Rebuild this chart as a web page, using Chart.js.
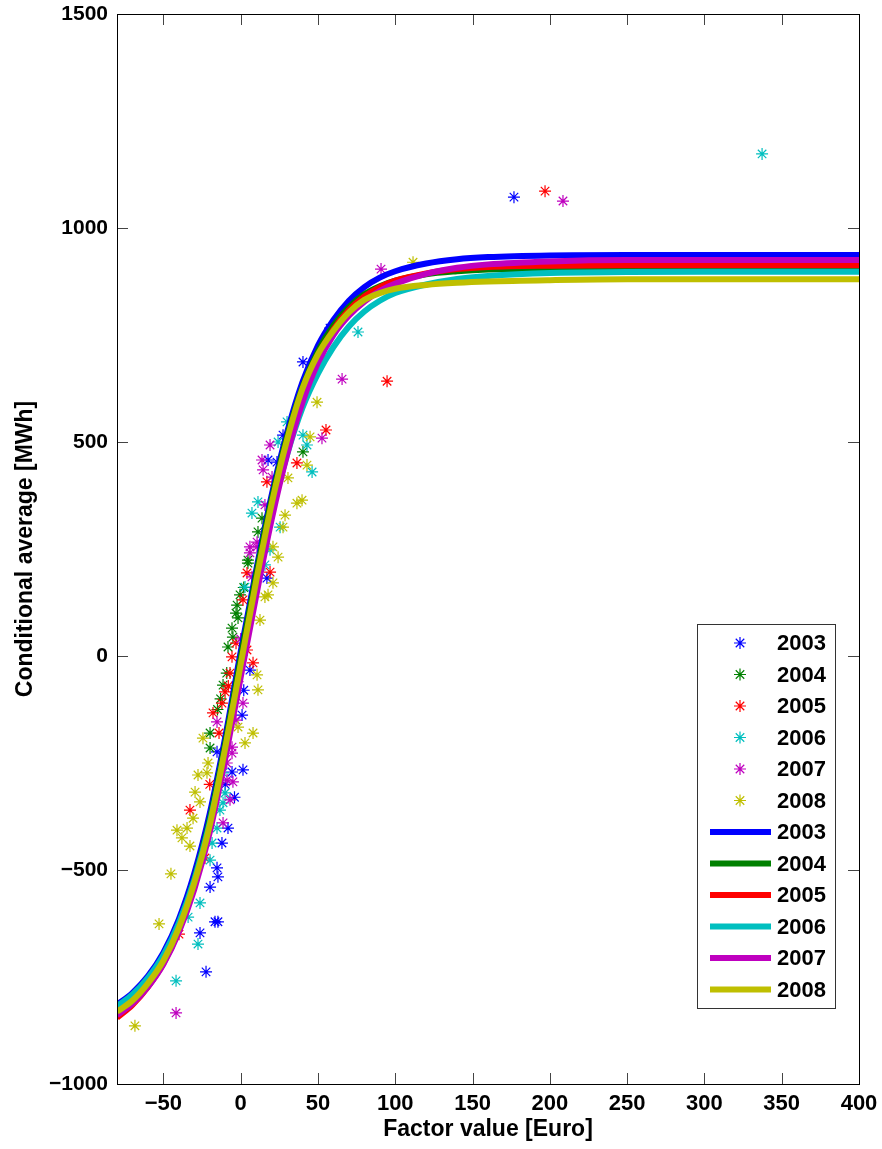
<!DOCTYPE html>
<html>
<head>
<meta charset="utf-8">
<script src="https://cdn.jsdelivr.net/npm/chart.js@4/dist/chart.umd.min.js"></script>
<style>
  html, body { margin: 0; padding: 0; background: #fff; }
  #wrap { width: 882px; height: 1149px; }
</style>
</head>
<body>
<div id="wrap"><canvas id="chart" width="882" height="1149"></canvas></div>
<script>
const years = ['2003', '2004', '2005', '2006', '2007', '2008'];
const colors = ['#0000ff', '#008000', '#ff0000', '#00bfbf', '#bf00bf', '#bfbf00'];

const xTicks = [-50, 0, 50, 100, 150, 200, 250, 300, 350, 400];
const yTicks = [-1000, -500, 0, 500, 1000, 1500];

// Observed conditional averages, [factor value, MWh]
const obs2003 = [[176.8, 1072], [57.8, 766], [40.3, 687], [27.4, 516], [17.7, 458], [23.5, 453], [17, 182],
    [6, -33], [0.9, -138], [1.5, -266], [-5.6, -271], [-8.2, -402], [-12.1, -437], [-15.3, -495], [-14.7, -516],
    [-19.8, -540], [-16.6, -621], [-14.7, -621], [-26.3, -647], [-22.4, -738], [-15.3, -224], [-4, -330],
    [-10, -300], [2, -80]];
const obs2004 = [[40.3, 477], [13.8, 322], [11.2, 290], [4.7, 224], [4.7, 217], [-0.4, 143], [-2.3, 119],
    [-1.7, 89], [-5.6, 65], [-5, 44], [-8.2, 21], [-11.4, -68], [-19.8, -180], [-19.8, -215], [-13, -100],
    [-9, -40], [-15, -125], [-3, 100], [2, 160]];
const obs2005 = [[196.9, 1086], [94.7, 642], [55.2, 528], [36.4, 451], [17, 407], [19, 196], [4.1, 194],
    [1.5, 131], [8, -16], [4.1, 14], [-5.6, -2], [-6.9, -40], [-10.1, -84], [-12.1, -110], [-17.9, -133],
    [-23.1, -472], [-32.8, -360], [-39.9, -650], [-14, -180], [-8, -70], [-20, -300], [-3, 30]];
const obs2006 = [[337.3, 1173], [75.9, 757], [46.2, 430], [42.9, 493], [40.3, 516], [30, 547], [24.2, 500],
    [11.2, 360], [7.3, 334], [25.5, 301], [19, 248], [15.7, 213], [2.8, 161], [-10.1, -320], [-11.4, -343],
    [-13.4, -360], [-11.4, -273], [-15.3, -402], [-18.5, -437], [-19.8, -477], [-26.3, -577], [-34, -610],
    [-27.6, -673], [-41.8, -759]];
const obs2007 = [[208.5, 1063], [90.8, 904], [65.6, 647], [52.6, 509], [19, 493], [13.8, 458], [14.5, 435],
    [20.3, 418], [15.7, 353], [10.6, 255], [10.6, 266], [6, 241], [6, 255], [7.3, 185], [1.5, -110],
    [-15.3, -154], [-5.6, -213], [-5.6, -227], [-8.8, -290], [-5, -294], [-6.9, -336], [-11.4, -390],
    [-41.8, -834], [-3, -150], [-9, -250], [-2, -60], [0, 40]];
const obs2008 = [[111.5, 920], [49.4, 593], [44.9, 512], [42.9, 446], [30.6, 416], [36.4, 357], [39.7, 364],
    [28.7, 329], [27.4, 301], [20.9, 255], [24.2, 231], [20.9, 171], [17.7, 143], [15.7, 138], [12.5, 84],
    [10.6, -44], [11.2, -79], [8, -180], [-1.7, -166], [2.8, -203], [-24.4, -192], [-21.1, -250],
    [-21.8, -273], [-27.6, -278], [-29.5, -318], [-26.3, -341], [-30.8, -379], [-34.7, -402], [-41.2, -407],
    [-38, -425], [-32.8, -444], [-45.1, -509], [-52.8, -626], [-68.4, -864]];

// Fitted curves, sampled at fitX
const fitX = [-80, -70, -60, -50, -40, -30, -20, -10, 0, 10, 20, 30, 40, 50, 60, 70, 80, 90, 100, 120, 140, 160, 200, 250, 300, 400];
const fit2003 = [-815, -787, -748, -693, -615, -508, -368, -190, 10, 200, 375, 522, 640, 725, 785, 830, 862, 884, 899, 917, 927, 932, 936, 937, 937, 937];
const fit2004 = [-830, -801, -760, -704, -626, -521, -382, -204, -5, 190, 365, 512, 628, 712, 772, 815, 845, 864, 877, 892, 899, 903, 905, 905, 905, 905];
const fit2005 = [-845, -815, -773, -718, -641, -537, -400, -225, -30, 165, 343, 493, 612, 700, 763, 808, 840, 862, 877, 894, 904, 909, 912, 913, 913, 913];
const fit2006 = [-818, -791, -752, -699, -624, -523, -390, -218, -25, 160, 330, 470, 580, 660, 722, 770, 805, 830, 848, 868, 881, 888, 895, 897, 898, 898];
const fit2007 = [-839, -812, -773, -720, -645, -545, -412, -240, -50, 140, 318, 470, 593, 685, 750, 795, 828, 853, 870, 893, 907, 915, 922, 925, 925, 925];
const fit2008 = [-831, -805, -765, -712, -635, -530, -395, -215, -20, 175, 355, 505, 625, 705, 760, 803, 832, 848, 858, 867, 872, 875, 878, 880, 880, 880];

const observed = [obs2003, obs2004, obs2005, obs2006, obs2007, obs2008];
const fitted = [fit2003, fit2004, fit2005, fit2006, fit2007, fit2008];

const FONT = '"Liberation Sans", Arial, Helvetica, sans-serif';

function minusSign(v) {
    return v < 0 ? '\u2212' + Math.abs(v) : String(v);
}

// Scatter sets first (legend order), drawn underneath the fitted lines
const datasets = [];
observed.forEach((pts, i) => {
    datasets.push({
        label: years[i],
        data: pts.map(p => ({ x: p[0], y: p[1] })),
        showLine: false,
        pointStyle: 'star',
        pointRadius: 6,
        pointBorderWidth: 1.2,
        borderColor: colors[i],
        backgroundColor: colors[i],
        order: 11 - i
    });
});
fitted.forEach((ys, i) => {
    datasets.push({
        label: years[i],
        data: fitX.map((x, k) => ({ x: x, y: ys[k] })),
        showLine: true,
        pointRadius: 0,
        borderWidth: 6,
        borderColor: colors[i],
        backgroundColor: colors[i],
        cubicInterpolationMode: 'monotone',
        order: 5 - i
    });
});

// Box around the plot with inward ticks on every side
const framePlugin = {
    id: 'frame',
    afterDatasetsDraw(chart) {
        const { ctx, chartArea: a, scales } = chart;
        const len = 11;
        ctx.save();
        ctx.lineWidth = 1;
        ctx.strokeStyle = '#444';
        ctx.beginPath();
        xTicks.forEach(v => {
            const px = Math.round(scales.x.getPixelForValue(v)) + 0.5;
            ctx.moveTo(px, a.bottom); ctx.lineTo(px, a.bottom - len);
            ctx.moveTo(px, a.top); ctx.lineTo(px, a.top + len);
        });
        yTicks.forEach(v => {
            const py = Math.round(scales.y.getPixelForValue(v)) + 0.5;
            ctx.moveTo(a.left, py); ctx.lineTo(a.left + len, py);
            ctx.moveTo(a.right, py); ctx.lineTo(a.right - len, py);
        });
        ctx.stroke();
        ctx.strokeStyle = '#000';
        ctx.strokeRect(Math.round(a.left) + 0.5, Math.round(a.top) + 0.5,
            Math.round(a.right - a.left), Math.round(a.bottom - a.top));
        ctx.restore();
    }
};

// Legend box in the lower right of the plot
const boxLegend = {
    id: 'boxLegend',
    afterDraw(chart, args, opts) {
        const { ctx } = chart;
        ctx.save();
        ctx.fillStyle = '#fff';
        ctx.fillRect(opts.left, opts.top, opts.width, opts.height);
        ctx.strokeStyle = '#333';
        ctx.lineWidth = 1;
        ctx.strokeRect(opts.left + 0.5, opts.top + 0.5, opts.width, opts.height);
        ctx.font = 'bold 22px ' + FONT;
        ctx.textBaseline = 'middle';
        chart.data.datasets.forEach((ds, i) => {
            const y = opts.top + opts.first + i * opts.step;
            ctx.strokeStyle = ds.borderColor;
            ctx.fillStyle = ds.borderColor;
            if (ds.showLine) {
                ctx.lineWidth = 6;
                ctx.beginPath();
                ctx.moveTo(opts.left + 13, y);
                ctx.lineTo(opts.left + 74, y);
                ctx.stroke();
            } else {
                ctx.lineWidth = 1.2;
                Chart.helpers.drawPoint(ctx, { pointStyle: 'star', radius: 6, borderWidth: 1.2, rotation: 0 },
                    opts.left + 43, y);
            }
            ctx.fillStyle = '#000';
            ctx.fillText(ds.label, opts.left + 80, y + 1);
        });
        ctx.restore();
    }
};

new Chart(document.getElementById('chart'), {
    type: 'scatter',
    data: { datasets: datasets },
    plugins: [framePlugin, boxLegend],
    options: {
        responsive: false,
        animation: false,
        devicePixelRatio: 1,
        layout: { padding: { top: 14, right: 23, left: 0, bottom: 0 } },
        plugins: {
            legend: { display: false },
            tooltip: { enabled: false },
            boxLegend: { left: 697, top: 624, width: 138, height: 384, first: 19, step: 31.5 }
        },
        scales: {
            x: {
                type: 'linear',
                min: -80,
                max: 400,
                afterBuildTicks: s => { s.ticks = xTicks.map(v => ({ value: v })); },
                afterFit: s => { s.height = 65; s.paddingLeft = 0; s.paddingRight = 0; },
                grid: { display: false, drawTicks: false },
                border: { display: false },
                ticks: {
                    padding: 7,
                    color: '#000',
                    font: { family: FONT, size: 22, weight: 'bold' },
                    callback: v => minusSign(v)
                },
                title: {
                    display: true,
                    text: 'Factor value [Euro]',
                    color: '#000',
                    padding: { bottom: 6 },
                    font: { family: FONT, size: 23, weight: 'bold' }
                }
            },
            y: {
                type: 'linear',
                min: -1000,
                max: 1500,
                afterBuildTicks: s => { s.ticks = yTicks.map(v => ({ value: v })); },
                afterFit: s => { s.width = 117; s.paddingTop = 0; s.paddingBottom = 0; },
                grid: { display: false, drawTicks: false },
                border: { display: false },
                ticks: {
                    padding: 9,
                    color: '#000',
                    font: { family: FONT, size: 21, weight: 'bold' },
                    callback: v => minusSign(v)
                },
                title: {
                    display: true,
                    text: 'Conditional average [MWh]',
                    color: '#000',
                    padding: { top: 12 },
                    font: { family: FONT, size: 23, weight: 'bold' }
                }
            }
        }
    }
});
</script>
</body>
</html>
